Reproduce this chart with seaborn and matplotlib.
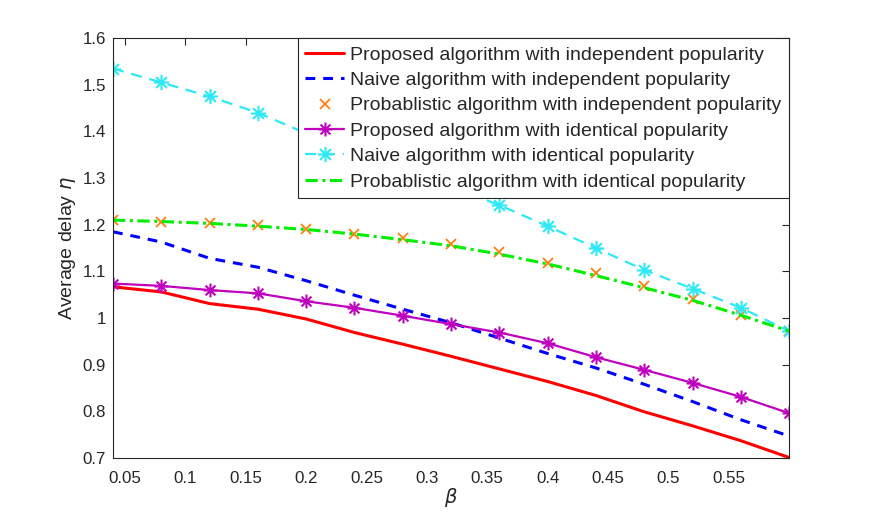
import numpy as np
import pandas as pd
import matplotlib
matplotlib.use("Agg")
import matplotlib.pyplot as plt
from matplotlib.path import Path
from matplotlib.ticker import FormatStrFormatter
import seaborn as sns

# data
beta = [0.04, 0.08, 0.12, 0.16, 0.20, 0.24, 0.28, 0.32, 0.36, 0.40, 0.44, 0.48, 0.52, 0.56, 0.60]
prop_indep = [1.067, 1.056, 1.031, 1.019, 0.998, 0.969, 0.944, 0.918, 0.891, 0.864, 0.834, 0.799, 0.769, 0.737, 0.701]
naive_indep = [1.185, 1.163, 1.128, 1.109, 1.080, 1.049, 1.019, 0.990, 0.957, 0.924, 0.893, 0.858, 0.821, 0.782, 0.747]
prob_indep = [1.210, 1.206, 1.204, 1.199, 1.191, 1.181, 1.172, 1.159, 1.142, 1.117, 1.097, 1.069, 1.040, 1.006, 0.973]
prop_ident = [1.074, 1.069, 1.060, 1.053, 1.036, 1.022, 1.005, 0.987, 0.969, 0.946, 0.916, 0.889, 0.861, 0.831, 0.796]
naive_ident = [1.535, 1.505, 1.475, 1.440, 1.396, 1.357, 1.320, 1.282, 1.242, 1.197, 1.150, 1.103, 1.063, 1.022, 0.972]
prob_ident = [1.210, 1.207, 1.203, 1.197, 1.190, 1.180, 1.168, 1.155, 1.137, 1.116, 1.091, 1.065, 1.038, 1.006, 0.972]

labels = [
    "Proposed algorithm with independent popularity",
    "Naive algorithm with independent popularity",
    "Probablistic algorithm with independent popularity",
    "Proposed algorithm with identical popularity",
    "Naive algorithm with identical popularity",
    "Probablistic algorithm with identical popularity",
]

df = pd.DataFrame({"beta": beta, "prop_indep": prop_indep, "naive_indep": naive_indep,
                   "prob_indep": prob_indep, "prop_ident": prop_ident,
                   "naive_ident": naive_ident, "prob_ident": prob_ident})

sns.set_theme(style="white")
plt.rcParams["font.family"] = ["Liberation Sans", "DejaVu Sans"]
plt.rcParams["mathtext.fontset"] = "dejavusans"

# MATLAB-like asterisk marker (+ and x overlaid)
d = 0.7071
asterisk = Path([(0, -1), (0, 1), (-1, 0), (1, 0), (-d, -d), (d, d), (-d, d), (d, -d)],
                [Path.MOVETO, Path.LINETO] * 4)

fig = plt.figure(figsize=(8.72, 5.16), dpi=100)
ax = fig.add_axes([0.1296, 0.1124, 0.7754, 0.8136])

sns.lineplot(data=df, x="beta", y="prop_indep", ax=ax, color="#ff0000", lw=2.2,
             label=labels[0])
sns.lineplot(data=df, x="beta", y="naive_indep", ax=ax, color="#0000ff", lw=2.2,
             ls=(0, (3.2, 2.6)), label=labels[1])
ax.plot(df["beta"], df["prob_indep"], ls="none", marker="x", ms=7, mew=1.3,
        color="#ff7f0e", label=labels[2])
sns.lineplot(data=df, x="beta", y="prop_ident", ax=ax, color="#bf00bf", lw=1.6,
             marker=asterisk, ms=10, mew=1.5, mfc="none", mec="#bf00bf", label=labels[3])
sns.lineplot(data=df, x="beta", y="naive_ident", ax=ax, color="#2de8f5", lw=1.6,
             ls=(0, (5, 3.5)), marker=asterisk, ms=11, mew=1.5, mfc="none",
             mec="#2de8f5", label=labels[4])
sns.lineplot(data=df, x="beta", y="prob_ident", ax=ax, color="#00ee00", lw=2.2,
             ls=(0, (4, 1.5, 1, 1.5)), label=labels[5])

ax.set_xlim(0.04, 0.6)
ax.set_ylim(0.7, 1.6)
ax.set_xticks(np.arange(0.05, 0.56, 0.05))
ax.set_yticks(np.arange(0.7, 1.61, 0.1))
ax.xaxis.set_major_formatter(FormatStrFormatter("%g"))
ax.yaxis.set_major_formatter(FormatStrFormatter("%g"))
ax.tick_params(direction="in", length=5, width=0.8, colors="#262626",
               top=True, right=True, labelsize=12.2)
ax.tick_params(axis="x", pad=9)
ax.tick_params(axis="y", pad=5)
for sp in ax.spines.values():
    sp.set_color("#262626")
    sp.set_linewidth(0.8)

ax.set_xlabel(r"$\beta$", fontsize=14, color="#262626", labelpad=0)
ax.set_ylabel(r"Average delay $\eta$", fontsize=14, color="#262626", labelpad=3)

handles, lbls = ax.get_legend_handles_labels()
leg = ax.legend(handles, lbls, loc="upper right", borderaxespad=0, fontsize=14,
                frameon=True, fancybox=False, edgecolor="#262626", framealpha=1,
                numpoints=1, handlelength=2.0, handletextpad=0.3, labelspacing=0.4,
                borderpad=0.4)
leg.get_frame().set_linewidth(0.8)

fig.savefig("out.png", dpi=100, facecolor="white")
